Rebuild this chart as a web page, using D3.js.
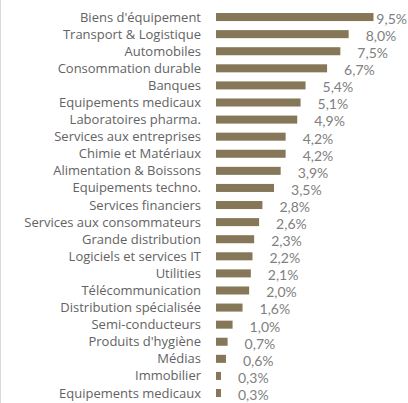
<!DOCTYPE html>
<html>
<head>
<meta charset="utf-8">
<script src="https://cdn.jsdelivr.net/npm/d3@7"></script>
<style>
  html, body { margin: 0; padding: 0; background: #fff; }
  svg { display: block; }
</style>
</head>
<body>
<script>
// Sector weights, in percent
const categories = [
  "Biens d'équipement", "Transport & Logistique", "Automobiles", "Consommation durable",
  "Banques", "Equipements medicaux", "Laboratoires pharma.", "Services aux entreprises",
  "Chimie et Matériaux", "Alimentation & Boissons", "Equipements techno.", "Services financiers",
  "Services aux consommateurs", "Grande distribution", "Logiciels et services IT", "Utilities",
  "Télécommunication", "Distribution spécialisée", "Semi-conducteurs", "Produits d'hygiène",
  "Médias", "Immobilier", "Equipements medicaux"
];
const values = [9.5, 8.0, 7.5, 6.7, 5.4, 5.1, 4.9, 4.2, 4.2, 3.9, 3.5, 2.8, 2.6, 2.3, 2.2, 2.1, 2.0, 1.6, 1.0, 0.7, 0.6, 0.3, 0.3];
const valueLabels = values.map(v => v.toFixed(1).replace(".", ",") + "%");

const W = 408, H = 403;
const svg = d3.select("body").append("svg").attr("width", W).attr("height", H);

const x = d3.scaleLinear().domain([0, 9.5]).range([216, 373.5]);
const y = d3.scaleBand().domain(categories.map((c, i) => i)).range([8.5, 8.5 + 23 * 17.09]).paddingInner(0.53).paddingOuter(0.265);

// thin frame line on the left edge
svg.append("line").attr("x1", 0.5).attr("x2", 0.5).attr("y1", 0).attr("y2", H)
  .attr("stroke", "#d9d9d9").attr("stroke-width", 1);

// category labels
svg.append("g").selectAll("text").data(categories).join("text")
  .attr("x", 201)
  .attr("y", (d, i) => y(i) + y.bandwidth() / 2)
  .attr("dy", "0.35em")
  .attr("text-anchor", "end")
  .attr("font-family", "'Open Sans', sans-serif")
  .attr("font-size", 13)
  .attr("fill", "#636363")
  .text(d => d);

// bars
svg.append("g").selectAll("rect").data(values).join("rect")
  .attr("x", x(0))
  .attr("y", (d, i) => y(i))
  .attr("width", d => x(d) - x(0))
  .attr("height", y.bandwidth())
  .attr("fill", "#857758");

// value labels
svg.append("g").selectAll("text").data(values).join("text")
  .attr("y", (d, i) => y(i) + y.bandwidth() / 2 + 2)
  .attr("dy", "0.35em")
  .attr("font-family", "Lato, sans-serif")
  .attr("font-size", 14)
  .attr("fill", "#808080")
  .text((d, i) => valueLabels[i])
  .each(function (d) {
    const w = this.getComputedTextLength();
    const px = Math.min(x(d) + 17, W - 1 - w);
    d3.select(this).attr("x", px);
  });
</script>
</body>
</html>
